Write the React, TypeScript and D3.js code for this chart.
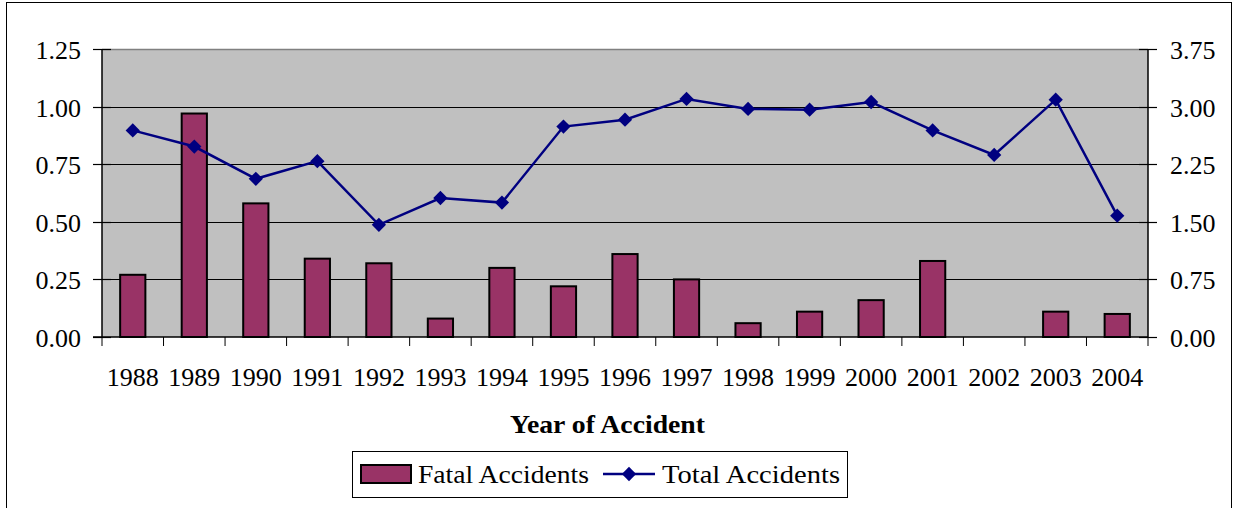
import { useEffect, useRef } from "react";
import * as d3 from "d3";

const years = ["1988", "1989", "1990", "1991", "1992", "1993", "1994", "1995", "1996", "1997", "1998", "1999", "2000", "2001", "2002", "2003", "2004"];
const fatalAccidents = [0.27, 0.97, 0.58, 0.34, 0.32, 0.08, 0.3, 0.22, 0.36, 0.25, 0.06, 0.11, 0.16, 0.33, 0, 0.11, 0.1];
const totalAccidents = [2.69, 2.48, 2.06, 2.29, 1.46, 1.81, 1.75, 2.74, 2.83, 3.1, 2.97, 2.96, 3.06, 2.69, 2.37, 3.09, 1.58];
const leftTicks = [0, 0.25, 0.5, 0.75, 1.0, 1.25];
const rightTicks = [0, 0.75, 1.5, 2.25, 3.0, 3.75];

const FONT = "'Liberation Serif', 'Times New Roman', serif";

export default function App() {
  const svgRef = useRef<SVGSVGElement | null>(null);

  useEffect(() => {
    if (!svgRef.current) return;
    const width = 1233;
    const height = 508;
    const left = 102, right = 1148, top = 49, bottom = 337;

    const svg = d3.select(svgRef.current);
    svg.selectAll("*").remove();
    svg.attr("width", width).attr("height", height);

    // chart frame
    svg.append("rect")
      .attr("x", 6.5).attr("y", 2.5)
      .attr("width", 1225).attr("height", 506)
      .attr("fill", "#fff").attr("stroke", "#000").attr("stroke-width", 1);

    const x = d3.scaleBand<string>().domain(years).range([left, right]).padding(0);
    const yL = d3.scaleLinear().domain([0, 1.25]).range([bottom, top]);
    const yR = d3.scaleLinear().domain([0, 3.75]).range([bottom, top]);

    // plot area
    svg.append("rect")
      .attr("x", left).attr("y", top)
      .attr("width", right - left).attr("height", bottom - top)
      .attr("fill", "#c0c0c0");
    svg.append("line")
      .attr("x1", left).attr("x2", right).attr("y1", top + 0.5).attr("y2", top + 0.5)
      .attr("stroke", "#808080").attr("stroke-width", 1.5);

    // gridlines
    svg.selectAll("line.grid")
      .data(leftTicks.filter(t => t > 0 && t < 1.25))
      .enter()
      .append("line")
      .attr("class", "grid")
      .attr("x1", left).attr("x2", right)
      .attr("y1", d => Math.round(yL(d)) + 0.5).attr("y2", d => Math.round(yL(d)) + 0.5)
      .attr("stroke", "#000").attr("stroke-width", 1);

    // left axis
    svg.append("line")
      .attr("x1", left).attr("x2", left).attr("y1", top).attr("y2", bottom)
      .attr("stroke", "#000").attr("stroke-width", 1.5);
    leftTicks.forEach(t => {
      const yy = Math.round(yL(t)) + 0.5;
      svg.append("line").attr("x1", left - 9).attr("x2", left + 9).attr("y1", yy).attr("y2", yy)
        .attr("stroke", "#000").attr("stroke-width", 1.2);
      svg.append("text")
        .attr("x", 81).attr("y", yL(t) + 10)
        .attr("text-anchor", "end")
        .attr("font-family", FONT).attr("font-size", 26)
        .text(d3.format(".2f")(t));
    });

    // right axis
    svg.append("line")
      .attr("x1", right).attr("x2", right).attr("y1", top).attr("y2", bottom)
      .attr("stroke", "#000").attr("stroke-width", 1.5);
    rightTicks.forEach(t => {
      const yy = Math.round(yR(t)) + 0.5;
      svg.append("line").attr("x1", right - 9).attr("x2", right + 9).attr("y1", yy).attr("y2", yy)
        .attr("stroke", "#000").attr("stroke-width", 1.2);
      svg.append("text")
        .attr("x", 1170).attr("y", yR(t) + 10)
        .attr("text-anchor", "start")
        .attr("font-family", FONT).attr("font-size", 26)
        .text(d3.format(".2f")(t));
    });

    // bottom axis
    svg.append("line")
      .attr("x1", left - 9).attr("x2", right).attr("y1", bottom).attr("y2", bottom)
      .attr("stroke", "#000").attr("stroke-width", 1.5);
    [...years.map(yr => x(yr)!), right].forEach(px => {
      svg.append("line").attr("x1", px).attr("x2", px).attr("y1", bottom).attr("y2", bottom + 9)
        .attr("stroke", "#000").attr("stroke-width", 1);
    });
    svg.selectAll("text.cat")
      .data(years)
      .enter()
      .append("text")
      .attr("class", "cat")
      .attr("x", d => x(d)! + x.bandwidth() / 2)
      .attr("y", 386)
      .attr("text-anchor", "middle")
      .attr("font-family", FONT).attr("font-size", 26)
      .text(d => d);

    // bars
    const barW = x.bandwidth() * 0.41;
    svg.selectAll("rect.bar")
      .data(years.map((yr, i) => ({ yr, v: fatalAccidents[i] })).filter(d => d.v > 0))
      .enter()
      .append("rect")
      .attr("class", "bar")
      .attr("x", d => x(d.yr)! + (x.bandwidth() - barW) / 2)
      .attr("y", d => yL(d.v))
      .attr("width", barW)
      .attr("height", d => bottom - yL(d.v))
      .attr("fill", "#993366")
      .attr("stroke", "#000")
      .attr("stroke-width", 2);

    // line
    const pts = years.map((yr, i) => [x(yr)! + x.bandwidth() / 2, yR(totalAccidents[i])] as [number, number]);
    svg.append("path")
      .attr("d", d3.line()(pts)!)
      .attr("fill", "none")
      .attr("stroke", "#000080")
      .attr("stroke-width", 2.5);
    const diamond = d3.symbol().type(d3.symbolDiamond2).size(130);
    svg.selectAll("path.marker")
      .data(pts)
      .enter()
      .append("path")
      .attr("class", "marker")
      .attr("transform", d => `translate(${d[0]},${d[1]})`)
      .attr("d", diamond()!)
      .attr("fill", "#000080");

    // axis title
    svg.append("text")
      .attr("x", 510).attr("y", 433)
      .attr("textLength", 195).attr("lengthAdjust", "spacingAndGlyphs")
      .attr("font-family", FONT).attr("font-size", 26).attr("font-weight", 700)
      .text("Year of Accident");

    // legend
    const lg = svg.append("g");
    lg.append("rect")
      .attr("x", 352.5).attr("y", 451.5).attr("width", 495).attr("height", 46)
      .attr("fill", "#fff").attr("stroke", "#000").attr("stroke-width", 1);
    lg.append("rect")
      .attr("x", 361).attr("y", 465).attr("width", 50).attr("height", 18)
      .attr("fill", "#993366").attr("stroke", "#000").attr("stroke-width", 2);
    lg.append("text")
      .attr("x", 418).attr("y", 483)
      .attr("textLength", 171).attr("lengthAdjust", "spacingAndGlyphs")
      .attr("font-family", FONT).attr("font-size", 26)
      .text("Fatal Accidents");
    lg.append("line")
      .attr("x1", 603).attr("x2", 655).attr("y1", 474).attr("y2", 474)
      .attr("stroke", "#000080").attr("stroke-width", 2.5);
    lg.append("path")
      .attr("transform", "translate(629,474)")
      .attr("d", diamond()!)
      .attr("fill", "#000080");
    lg.append("text")
      .attr("x", 662).attr("y", 483)
      .attr("textLength", 178).attr("lengthAdjust", "spacingAndGlyphs")
      .attr("font-family", FONT).attr("font-size", 26)
      .text("Total Accidents");
  }, []);

  return <svg ref={svgRef} style={{ position: "absolute", left: 0, top: 0 }} />;
}
